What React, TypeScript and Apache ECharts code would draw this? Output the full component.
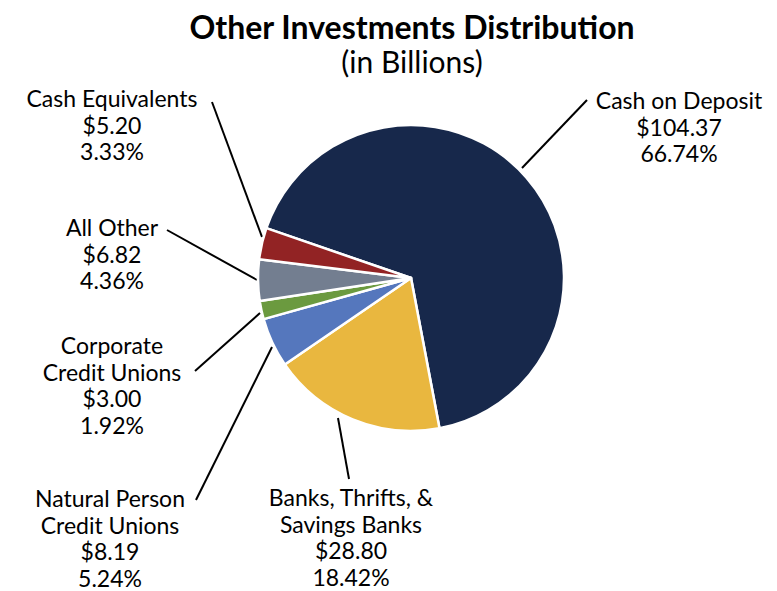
import React, { useEffect, useRef } from "react";
import * as echarts from "echarts";

const categories = [
  "Cash on Deposit",
  "Banks, Thrifts, &\nSavings Banks",
  "Natural Person\nCredit Unions",
  "Corporate\nCredit Unions",
  "All Other",
  "Cash Equivalents",
];
const values = [104.37, 28.8, 8.19, 3.0, 6.82, 5.2];
const colors = ["#17284b", "#e9b73f", "#5577bd", "#6b9a3f", "#737e90", "#922324"];

// label layout (center x, top y) and leader line points
const labelPos: [number, number][] = [
  [679, 87],
  [351, 484],
  [110, 485],
  [112, 332],
  [112, 214],
  [112, 85],
];
const linePts: [number, number][][] = [
  [[522, 168], [587, 100]],
  [[338, 418], [349, 479]],
  [[272, 347], [196, 500]],
  [[260, 313], [195, 371]],
  [[257, 280], [167, 230]],
  [[262, 237], [212, 102]],
];

export default function App() {
  const ref = useRef<HTMLDivElement>(null);
  useEffect(() => {
    document.body.style.margin = "0";
    const chart = echarts.init(ref.current!, null, { renderer: "svg" });
    const total = values.reduce((a, b) => a + b, 0);
    const font = "Lato, 'Open Sans', sans-serif";
    chart.setOption({
      animation: false,
      backgroundColor: "#ffffff",
      title: {
        text: "Other Investments Distribution",
        subtext: "(in Billions)",
        left: 407,
        top: 4,
        textAlign: "center",
        itemGap: 2,
        textStyle: { fontFamily: font, fontWeight: "bold", fontSize: 32, lineHeight: 34, color: "#000" },
        subtextStyle: { fontFamily: font, fontSize: 30, lineHeight: 32, color: "#000" },
      },
      series: [
        {
          type: "pie",
          center: [411, 278],
          radius: 153,
          startAngle: 161,
          clockwise: true,
          itemStyle: { borderColor: "#ffffff", borderWidth: 2.5 },
          data: categories.map((c, i) => ({
            name: c,
            value: values[i],
            itemStyle: { color: colors[i] },
          })),
          label: {
            show: true,
            fontFamily: font,
            fontSize: 23,
            lineHeight: 26.5,
            color: "#000",
            align: "center",
            formatter: (p: any) =>
              `${p.name}\n$${p.value.toFixed(2)}\n${((p.value / total) * 100).toFixed(2)}%`,
          },
          labelLine: { show: true, lineStyle: { color: "#000", width: 2 } },
          labelLayout: (params: any) => {
            const i = params.dataIndex;
            const pts = linePts[i];
            return {
              x: labelPos[i][0],
              y: labelPos[i][1],
              align: "center",
              verticalAlign: "top",
              labelLinePoints: [pts[0], pts[1], pts[1]],
            };
          },
          emphasis: { disabled: true },
        },
      ],
    });
    return () => chart.dispose();
  }, []);
  return <div ref={ref} style={{ width: 777, height: 591 }} />;
}
